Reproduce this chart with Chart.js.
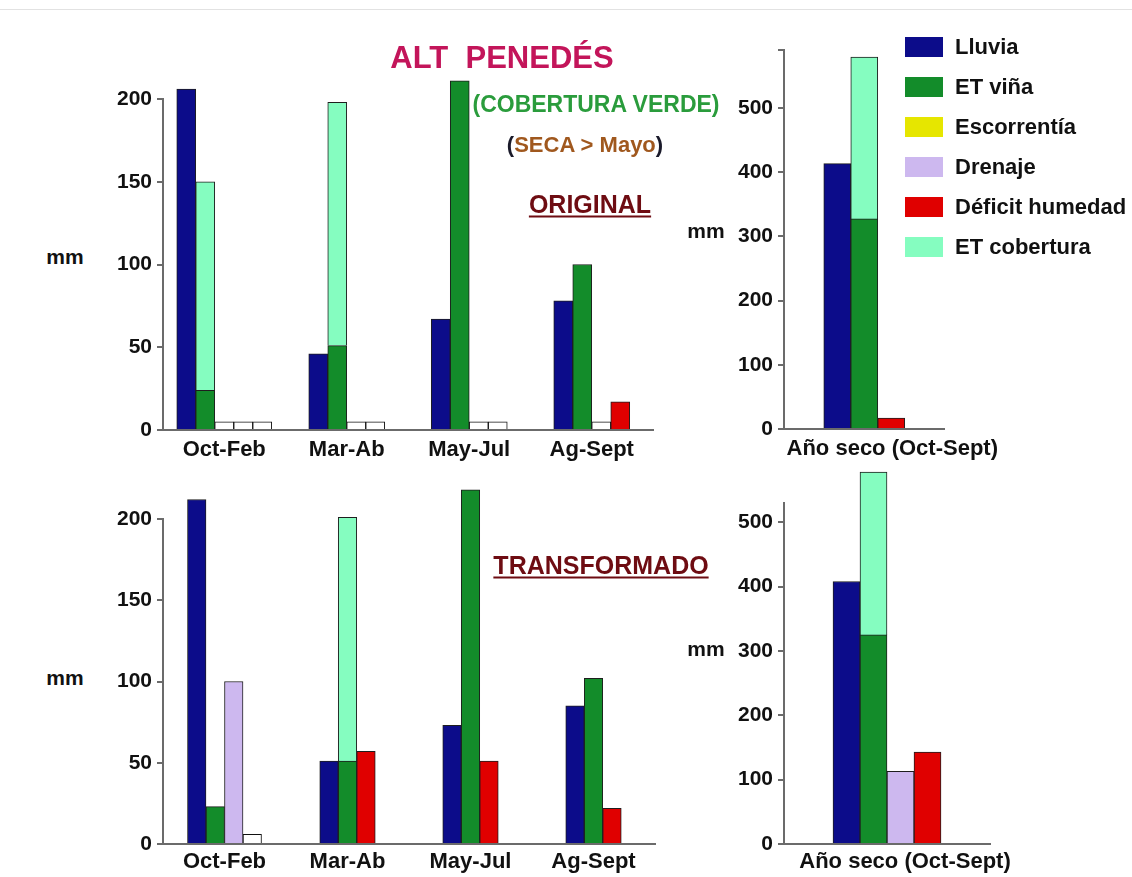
<!DOCTYPE html>
<html lang="es">
<head>
<meta charset="utf-8">
<title>Alt Penedès - balance hídrico</title>
<script src="https://cdn.jsdelivr.net/npm/chart.js@4.4.1/dist/chart.umd.min.js"></script>
<style>
  body { margin: 0; background: #fff; }
  #pagina { position: relative; width: 1132px; height: 877px; overflow: hidden;
            font-family: 'Liberation Sans', Arial, sans-serif; font-weight: bold; }
  canvas { position: absolute; }
  .txt { position: absolute; white-space: pre; line-height: 1; transform: translate(-50%, -50%); }
  .sub { text-decoration: underline; text-decoration-thickness: 2px; text-underline-offset: 3px; }
  .fila { position: absolute; left: 905px; height: 20px; }
  .fila span.caja { position: absolute; left: 0; top: 0; width: 38px; height: 20px; }
  .fila span.nom { position: absolute; left: 50px; top: 10px; transform: translateY(-50%);
                   font-size: 22px; line-height: 1; white-space: pre; color: #111; }
</style>
</head>
<body>
<div id="pagina">
  <div style="position:absolute;left:0;top:9px;width:1132px;height:1px;background:#e2e2e2"></div>

  <canvas id="origEst" width="560" height="410" style="left:100px;top:70px"></canvas>
  <canvas id="origAnu" width="300" height="460" style="left:700px;top:20px"></canvas>
  <canvas id="transEst" width="560" height="397" style="left:100px;top:480px"></canvas>
  <canvas id="transAnu" width="330" height="407" style="left:700px;top:470px"></canvas>

  <div class="txt" style="left:502px;top:57px;font-size:31px;color:#c3155a">ALT  PENEDÉS</div>
  <div class="txt" style="left:596px;top:104px;font-size:23px;color:#2a9c3c">(COBERTURA VERDE)</div>
  <div class="txt" style="left:585px;top:145px;font-size:22px;color:#1a1a2a">(<span style="color:#a0581e">SECA &gt; Mayo</span>)</div>
  <div class="txt sub" style="left:590px;top:204px;font-size:25px;color:#6e0c12">ORIGINAL</div>
  <div class="txt sub" style="left:601px;top:565px;font-size:25px;color:#6e0c12">TRANSFORMADO</div>

  <div class="txt" style="left:65px;top:256px;font-size:21px;color:#111">mm</div>
  <div class="txt" style="left:706px;top:230px;font-size:21px;color:#111">mm</div>
  <div class="txt" style="left:65px;top:677px;font-size:21px;color:#111">mm</div>
  <div class="txt" style="left:706px;top:648px;font-size:21px;color:#111">mm</div>

  <div id="leyenda"></div>
</div>

<script>
// categorías
const estaciones = ['Oct-Feb', 'Mar-Ab', 'May-Jul', 'Ag-Sept'];
const anual = ['Año seco (Oct-Sept)'];
const nombres = ['Lluvia', 'ET viña', 'Escorrentía', 'Drenaje', 'Déficit humedad', 'ET cobertura'];

// ORIGINAL, por estación (mm)
const origLluvia = [206, 46, 67, 78];
const origEtVina = [24, 51, 211, 100];
const origEtCob = [126, 147, null, null];
const origEscorrentia = [null, null, null, null];
const origDrenaje = [null, null, null, null];
const origDeficit = [null, null, null, 17];
// casillas blancas (vacías) del gráfico original
const origVacio1 = [5, 5, 5, 5];
const origVacio2 = [5, 5, 5, null];
const origVacio3 = [5, null, null, null];

// ORIGINAL, año seco
const origAnLluvia = [413];
const origAnEtVina = [327];
const origAnEtCob = [252];
const origAnDeficit = [17];

// TRANSFORMADO, por estación
const transLluvia = [212, 51, 73, 85];
const transEtVina = [23, 51, 218, 102];
const transEtCob = [null, 150, null, null];
const transEscorrentia = [null, null, null, null];
const transDrenaje = [100, null, null, null];
const transVacio = [6, null, null, null];
const transDeficit = [null, 57, 51, 22];

// TRANSFORMADO, año seco
const transAnLluvia = [408];
const transAnEtVina = [325];
const transAnEtCob = [253];
const transAnDrenaje = [113];
const transAnDeficit = [143];

// marcas del eje y
const ticksEstacion = [0, 50, 100, 150, 200];
const ticksAnual = [0, 100, 200, 300, 400, 500];

const colores = ['#0c0c8a', '#138c2a', '#e6e600', '#cdb8ef', '#e00000', '#85fdc0'];
const gris = '#6b6b6b';

function serie(label, data, color, stack, grosor) {
    return {
        label: label,
        data: data,
        backgroundColor: color,
        borderColor: color === '#ffffff' ? '#111' : '#1e1e1e',
        borderWidth: 1,
        stack: stack,
        skipNull: true,
        barThickness: grosor,
        clip: false
    };
}

function grafico(id, etiquetas, series, cfg) {
    return new Chart(document.getElementById(id), {
        type: 'bar',
        data: { labels: etiquetas, datasets: series },
        options: {
            responsive: false,
            animation: false,
            layout: { padding: { top: cfg.top, right: cfg.right, left: 0, bottom: 0 } },
            plugins: { legend: { display: false }, tooltip: { enabled: false } },
            scales: {
                x: {
                    grid: { display: false, drawTicks: false },
                    border: { color: gris, width: 2 },
                    ticks: {
                        padding: cfg.xPad,
                        labelOffset: cfg.labelOffset || 0,
                        color: '#111',
                        font: { size: 22, weight: 'bold' },
                        maxRotation: 0,
                        autoSkip: false
                    },
                    afterFit: s => { s.height = cfg.xAlto; }
                },
                y: {
                    min: 0,
                    max: cfg.max,
                    grid: { drawOnChartArea: false, color: gris, lineWidth: 2, tickLength: 6 },
                    border: { color: gris, width: 2 },
                    ticks: {
                        padding: 5,
                        color: '#111',
                        font: { size: 21, weight: 'bold' },
                        callback: (v, i) => i < cfg.ticks.length ? v : ''
                    },
                    afterBuildTicks: s => {
                        s.ticks = cfg.ticks.map(v => ({ value: v }));
                        if (cfg.marcaTope) s.ticks.push({ value: s.max });
                    },
                    afterFit: s => { s.width = 63 + (cfg.yExtra || 0); }
                }
            }
        }
    });
}

Chart.defaults.font.family = "'Liberation Sans', Arial, sans-serif";

const blanco = '#ffffff';

grafico('origEst', estaciones, [
    serie(nombres[0], origLluvia, colores[0], 'a', 19),
    serie(nombres[1], origEtVina, colores[1], 'b', 19),
    serie(nombres[5], origEtCob, colores[5], 'b', 19),
    serie(nombres[2], origEscorrentia, colores[2], 'c', 19),
    serie(nombres[3], origDrenaje, colores[3], 'd', 19),
    serie('vacío 1', origVacio1, blanco, 'v1', 19),
    serie('vacío 2', origVacio2, blanco, 'v2', 19),
    serie('vacío 3', origVacio3, blanco, 'v3', 19),
    serie(nombres[4], origDeficit, colores[4], 'e', 19)
], { top: 29, right: 7, xAlto: 50, xPad: 7, max: 200, ticks: ticksEstacion });

grafico('origAnu', anual, [
    serie(nombres[0], origAnLluvia, colores[0], 'a', 27),
    serie(nombres[1], origAnEtVina, colores[1], 'b', 27),
    serie(nombres[5], origAnEtCob, colores[5], 'b', 27),
    serie(nombres[4], origAnDeficit, colores[4], 'e', 27)
], { top: 30, right: 46, xAlto: 51, xPad: 7, max: 590, ticks: ticksAnual, marcaTope: true,
     yExtra: 21, labelOffset: 28 });

grafico('transEst', estaciones, [
    serie(nombres[0], transLluvia, colores[0], 'a', 18.5),
    serie(nombres[1], transEtVina, colores[1], 'b', 18.5),
    serie(nombres[5], transEtCob, colores[5], 'b', 18.5),
    serie(nombres[2], transEscorrentia, colores[2], 'c', 18.5),
    serie(nombres[3], transDrenaje, colores[3], 'd', 18.5),
    serie('vacío', transVacio, blanco, 'v1', 18.5),
    serie(nombres[4], transDeficit, colores[4], 'e', 18.5)
], { top: 39, right: 5, xAlto: 33, xPad: 5, max: 200, ticks: ticksEstacion });

grafico('transAnu', anual, [
    serie(nombres[0], transAnLluvia, colores[0], 'a', 27),
    serie(nombres[1], transAnEtVina, colores[1], 'b', 27),
    serie(nombres[5], transAnEtCob, colores[5], 'b', 27),
    serie(nombres[3], transAnDrenaje, colores[3], 'd', 27),
    serie(nombres[4], transAnDeficit, colores[4], 'e', 27)
], { top: 33, right: 40, xAlto: 33, xPad: 5, max: 530, ticks: ticksAnual,
     yExtra: 21, labelOffset: 18 });

// leyenda común (arriba a la derecha)
const leyenda = document.getElementById('leyenda');
nombres.forEach((n, i) => {
    const fila = document.createElement('div');
    fila.className = 'fila';
    fila.style.top = (37 + i * 40) + 'px';
    fila.innerHTML = `<span class="caja" style="background:${colores[i]}"></span><span class="nom">${n}</span>`;
    leyenda.appendChild(fila);
});
</script>
</body>
</html>
